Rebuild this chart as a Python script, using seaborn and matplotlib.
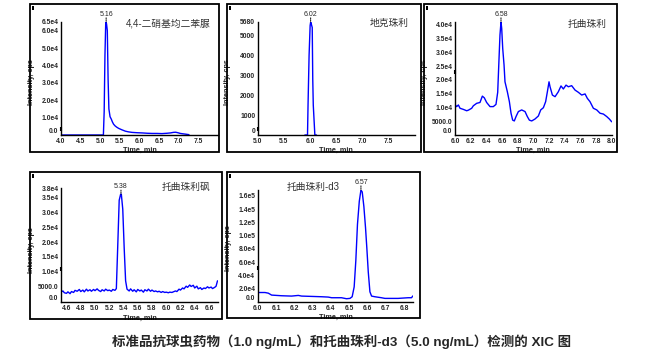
"""
XIC chromatograms of anticoccidial standards (1.0 ng/mL) and toltrazuril-d3.
"""
import matplotlib

matplotlib.use("Agg")
import matplotlib.pyplot as plt
import pandas as pd
import seaborn as sns
from matplotlib.patches import Rectangle

W, H = 661, 353

# ---- data ----
# 4,4-dinitrocarbanilide
t_dnc = [4.00, 4.50, 5.00, 5.08, 5.10, 5.12, 5.14, 5.16, 5.18, 5.20, 5.22,
         5.25, 5.28, 5.31, 5.34, 5.38, 5.42, 5.47, 5.55, 5.64, 5.72, 5.81,
         5.95, 6.06, 6.20, 6.32, 6.45, 6.57, 6.70, 6.79, 6.86, 6.92, 6.98,
         7.04, 7.10, 7.17, 7.26]
i_dnc = [0, 0, 0, 0, 13500, 46000, 65000, 64000, 60000, 32000, 15000,
         10500, 9200, 7500, 6200, 5200, 4500, 3800, 3000, 2200, 1800, 1500,
         1300, 1200, 1000, 900, 900, 800, 1000, 1200, 1500, 1600, 1300,
         900, 700, 500, 200]

# diclazuril
t_dic = [5.90, 5.95, 5.96, 5.98, 6.00, 6.01, 6.02, 6.04, 6.05, 6.06, 6.08,
         6.09, 6.12]
i_dic = [0, 0, 1500, 4000, 5500, 5680, 5600, 5400, 2800, 1500, 500, 0, 0]

# toltrazuril
t_tol = [6.000, 6.021, 6.043, 6.064, 6.106, 6.149, 6.170, 6.213, 6.234,
         6.277, 6.319, 6.349, 6.374, 6.404, 6.447, 6.489, 6.523, 6.545,
         6.562, 6.574, 6.587, 6.596, 6.609, 6.626, 6.638, 6.668, 6.694,
         6.715, 6.736, 6.757, 6.779, 6.809, 6.851, 6.894, 6.923, 6.949,
         6.979, 7.021, 7.064, 7.094, 7.128, 7.157, 7.179, 7.200, 7.213,
         7.243, 7.277, 7.319, 7.353, 7.383, 7.417, 7.447, 7.489, 7.532,
         7.574, 7.617, 7.660, 7.689, 7.723, 7.766, 7.809, 7.851, 7.894,
         7.936, 7.970, 8.000]
i_tol = [11100, 10300, 10900, 9700, 9300, 8800, 9000, 9700, 10600, 11500,
         11800, 14100, 13500, 11800, 10300, 10300, 11100, 15500, 27800,
         36300, 41000, 38700, 31400, 25400, 19300, 15700, 12100, 7900, 5400,
         5100, 6700, 8500, 9100, 8500, 6700, 5400, 5100, 5800, 6900, 9100,
         9900, 12100, 15700, 19300, 17500, 14500, 13900, 15700, 17800, 16700,
         18100, 17500, 17900, 16300, 15500, 14500, 14900, 13300, 12100, 9700,
         9100, 7900, 7600, 6700, 5800, 4800]

# toltrazuril sulfone
t_tzs = [4.52, 4.55, 4.57, 4.60, 4.62, 4.65, 4.67, 4.70, 4.72, 4.75, 4.78,
         4.80, 4.83, 4.85, 4.88, 4.90, 4.93, 4.95, 4.98, 5.00, 5.03, 5.05,
         5.08, 5.10, 5.13, 5.15, 5.18, 5.20, 5.23, 5.25, 5.28, 5.30, 5.32,
         5.34, 5.36, 5.37, 5.39, 5.41, 5.43, 5.45, 5.48, 5.50, 5.53, 5.55,
         5.58, 5.60, 5.63, 5.65, 5.68, 5.70, 5.73, 5.75, 5.78, 5.80, 5.83,
         5.85, 5.88, 5.90, 5.93, 5.95, 5.98, 6.00, 6.03, 6.05, 6.08, 6.10,
         6.13, 6.15, 6.18, 6.20, 6.23, 6.25, 6.28, 6.30, 6.33, 6.35, 6.38,
         6.40, 6.43, 6.45, 6.48, 6.50, 6.53, 6.55, 6.58, 6.60, 6.63, 6.65,
         6.68, 6.70, 6.72]
i_tzs = [3200, 3600, 3000, 2800, 3300, 2700, 3400, 3100, 3800, 3500, 4100,
         3400, 3900, 3300, 4200, 3600, 4000, 3500, 4100, 3700, 4300, 3800,
         3400, 4000, 3600, 4200, 3700, 3900, 3500, 4100, 3800, 4400, 19000,
         34000, 36000, 36000, 31000, 18000, 7000, 4200, 3600, 4300, 3500,
         4000, 3300, 4100, 3600, 3900, 3200, 4000, 3600, 4200, 3500, 3900,
         3400, 3600, 3300, 3500, 3100, 3400, 3100, 3200, 3000, 3200, 3100,
         3300, 3600, 3400, 4200, 3900, 4600, 4300, 5200, 4800, 5600, 5100,
         5500, 4600, 5200, 4300, 4700, 4100, 4600, 4400, 5000, 4600, 4900,
         4400, 4800, 5200, 7000]

# toltrazuril-d3
t_d3 = [6.004, 6.040, 6.058, 6.076, 6.131, 6.185, 6.222, 6.240, 6.295,
        6.349, 6.385, 6.404, 6.458, 6.485, 6.504, 6.516, 6.527, 6.536,
        6.545, 6.555, 6.564, 6.571, 6.580, 6.589, 6.596, 6.604, 6.613,
        6.622, 6.640, 6.676, 6.695, 6.767, 6.822, 6.840, 6.849]
i_d3 = [13900, 13900, 12900, 10000, 9000, 8500, 9500, 8500, 8000, 7500,
        7000, 6000, 6000, 4500, 5000, 7500, 22400, 62000, 117000, 152000,
        169000, 166000, 144000, 112000, 82000, 45000, 15000, 8500, 7500,
        6000, 5000, 5000, 6000, 6000, 9000]

names = ["4,4-二硝基均二苯脲", "地克珠利", "托曲珠利", "托曲珠利砜", "托曲珠利-d3"]
peak_labels = ["5.16", "6.02", "6.58", "5.38", "6.57"]
peak_times = [5.15, 6.01, 6.587, 5.365, 6.564]
peak_heights = [65000, 5680, 41000, 36000, 169000]

x_ticks = [
    [4.0, 4.5, 5.0, 5.5, 6.0, 6.5, 7.0, 7.5],
    [5.0, 5.5, 6.0, 6.5, 7.0, 7.5],
    [6.0, 6.2, 6.4, 6.6, 6.8, 7.0, 7.2, 7.4, 7.6, 7.8, 8.0],
    [4.6, 4.8, 5.0, 5.2, 5.4, 5.6, 5.8, 6.0, 6.2, 6.4, 6.6],
    [6.0, 6.1, 6.2, 6.3, 6.4, 6.5, 6.6, 6.7, 6.8],
]
y_ticks = [
    [0, 10000, 20000, 30000, 40000, 50000, 60000, 65000],
    [0, 1000, 2000, 3000, 4000, 5000, 5680],
    [0, 5000, 10000, 15000, 20000, 25000, 30000, 35000, 40000],
    [0, 5000, 10000, 15000, 20000, 25000, 30000, 35000, 38000],
    [0, 20000, 40000, 60000, 80000, 100000, 120000, 140000, 160000],
]
y_ticklabels = [
    ["0.0", "1.0e4", "2.0e4", "3.0e4", "4.0e4", "5.0e4", "6.0e4", "6.5e4"],
    ["0", "1000", "2000", "3000", "4000", "5000", "5680"],
    ["0.0", "5000.0", "1.0e4", "1.5e4", "2.0e4", "2.5e4", "3.0e4",
     "3.5e4", "4.0e4"],
    ["0.0", "5000.0", "1.0e4", "1.5e4", "2.0e4", "2.5e4", "3.0e4",
     "3.5e4", "3.8e4"],
    ["0.0", "2.0e4", "4.0e4", "6.0e4", "8.0e4", "1.0e5", "1.2e5",
     "1.4e5", "1.6e5"],
]
x_limits = [(4.0, 8.0), (5.0, 8.0), (6.0, 8.0), (4.523, 6.727), (6.0, 6.85)]
y_limits = [(0, 65000), (0, 5680), (0, 41000), (0, 38000), (0, 169000)]
threshold = [3500, 300, 23000, 10800, 50700]

traces = [(t_dnc, i_dnc), (t_dic, i_dic), (t_tol, i_tol), (t_tzs, i_tzs),
          (t_d3, i_d3)]

# ---- layout (pixel boxes: left, top, right, bottom) ----
boxes = [(30, 4, 219, 152), (227, 4, 421, 152), (424, 4, 617, 152),
         (30, 172, 222, 319), (227, 172, 420, 318)]
axes_px = [(61, 22, 218, 135), (257.7, 22, 415, 135), (455, 22, 611.7, 135),
           (61, 188.3, 218, 301.7), (257.7, 190, 413.3, 301.7)]
title_px = [(168.5, 24), (389.5, 23), (587.5, 24), (186, 187), (313.5, 187)]
ylabel_x = [35, 230.7, 428, 35, 231.7]
ylabel_y = [82, 82, 82, 250, 248]
xlabel_y = [147, 147, 147, 315, 314]

sns.set_style("white")
plt.rcParams["font.family"] = ["Liberation Sans", "Noto Sans CJK SC"]

fig = plt.figure(figsize=(W / 100, H / 100), dpi=100)


def fx(x):
    return x / W


def fy(y):
    return 1 - y / H


for k in range(5):
    bx0, by0, bx1, by1 = boxes[k]
    fig.add_artist(Rectangle((fx(bx0), fy(by1)), (bx1 - bx0) / W,
                             (by1 - by0) / H, transform=fig.transFigure,
                             fill=False, ec="black", lw=1.3))
    fig.add_artist(Rectangle((fx(bx0 + 2), fy(by0 + 6)), 2 / W, 4 / H,
                             transform=fig.transFigure, fc="black",
                             ec="none"))

    ax0, ay0, ax1, ay1 = axes_px[k]
    ax = fig.add_axes([fx(ax0), fy(ay1), (ax1 - ax0) / W, (ay1 - ay0) / H])
    ax.patch.set_alpha(0)

    t, v = traces[k]
    df = pd.DataFrame({"time": t, "intensity": v})
    sns.lineplot(data=df, x="time", y="intensity", ax=ax, color="#0000ff",
                 lw=1.0, estimator=None, sort=False)

    ax.set_xlim(*x_limits[k])
    ax.set_ylim(*y_limits[k])
    ax.set_xticks(x_ticks[k])
    ax.set_xticklabels([f"{x:.1f}" for x in x_ticks[k]])
    ax.set_yticks(y_ticks[k])
    ax.set_yticklabels(y_ticklabels[k])
    ax.tick_params(length=0, labelsize=4.9)
    ax.tick_params(axis="x", pad=2.4)
    ax.tick_params(axis="y", pad=1.8)
    for lab in ax.get_xticklabels() + ax.get_yticklabels():
        lab.set_fontweight("bold")
    ax.get_yticklabels()[0].set_verticalalignment("bottom")
    for side in ["top", "right"]:
        ax.spines[side].set_visible(False)
    for side in ["left", "bottom"]:
        ax.spines[side].set_color("black")
        ax.spines[side].set_linewidth(1.0)
        ax.spines[side].set_zorder(3)

    ax.set_xlabel("Time, min", fontsize=5.2, fontweight="bold")
    ax.set_ylabel("Intensity, cps", fontsize=5.2, fontweight="bold")
    ah = ay1 - ay0
    aw = ax1 - ax0
    ax.yaxis.set_label_coords((ylabel_x[k] - ax0) / aw,
                              (ay1 - ylabel_y[k]) / ah)
    ax.xaxis.set_label_coords(0.5, -(xlabel_y[k] - ay1) / ah)

    # threshold marker on the y-axis
    ax.plot([x_limits[k][0]], [threshold[k]], marker="|", ms=3, mew=1.5,
            color="black", clip_on=False)

    # peak apex label with dotted leader
    ax.annotate(peak_labels[k], xy=(peak_times[k], peak_heights[k]),
                xytext=(0, 5.5), textcoords="offset points", ha="center",
                va="center", fontsize=5)
    ax.annotate("", xy=(peak_times[k], peak_heights[k]),
                xytext=(0, 3), textcoords="offset points",
                arrowprops=dict(arrowstyle="-", ls=(0, (1, 1)), lw=0.7,
                                color="black", shrinkA=0, shrinkB=0))

    fig.text(fx(title_px[k][0]), fy(title_px[k][1]), names[k],
             ha="center", va="center", fontsize=7, color="#333333",
             family=["Liberation Sans", "Noto Sans CJK SC"])

fig.text(fx(341.5), fy(341.7),
         "标准品抗球虫药物（1.0 ng/mL）和托曲珠利-d3（5.0 ng/mL）检测的 XIC 图",
         ha="center", va="center", fontsize=9.7, fontweight="bold",
         family=["Liberation Sans", "Noto Sans CJK SC"])

fig.savefig("out.png", dpi=100)
